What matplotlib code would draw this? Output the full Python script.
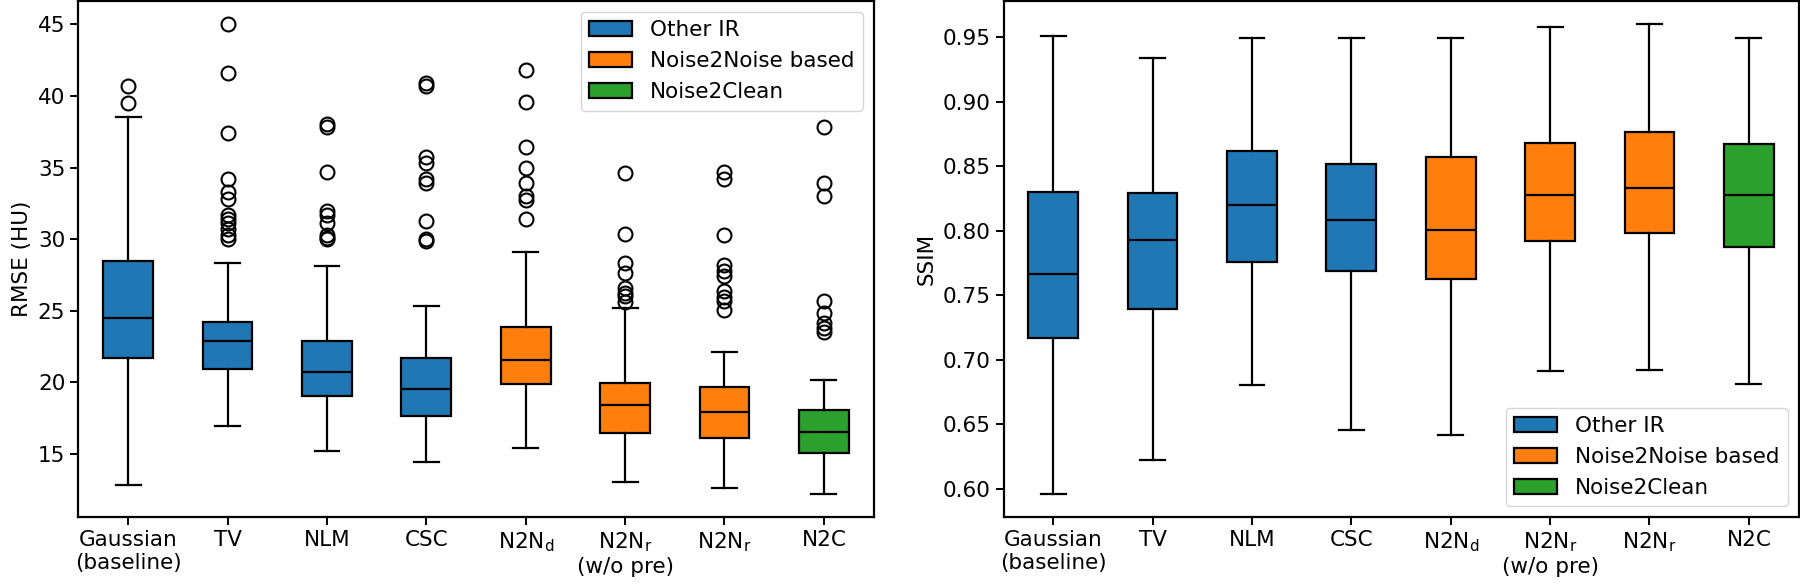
import matplotlib.pyplot as plt
from matplotlib.patches import Patch

plt.rcParams['font.family'] = ['DejaVu Sans']
plt.rcParams['font.size'] = 15.5

methods = ['Gaussian\n(baseline)', 'TV', 'NLM', 'CSC', 'N2N$_\\mathrm{d}$',
           'N2N$_\\mathrm{r}$\n(w/o pre)', '$\\mathrm{N2N_r}$', 'N2C']
groups = [0, 0, 0, 0, 1, 1, 1, 2]
group_names = ['Other IR', 'Noise2Noise based', 'Noise2Clean']
group_colors = ['#1f77b4', '#ff7f0e', '#2ca02c']

# RMSE (HU): whisker low, Q1, median, Q3, whisker high
rmse_wlo = [12.8, 16.95, 15.2, 14.45, 15.42, 13.05, 12.63, 12.21]
rmse_q1 = [21.72, 20.94, 19.0, 17.63, 19.84, 16.41, 16.07, 15.05]
rmse_med = [24.5, 22.84, 20.73, 19.5, 21.54, 18.39, 17.89, 16.51]
rmse_q3 = [28.44, 24.17, 22.84, 21.7, 23.83, 19.92, 19.64, 18.07]
rmse_whi = [38.5, 28.3, 28.1, 25.31, 29.09, 25.21, 22.08, 20.18]
rmse_fliers = [
    [40.73, 39.53],
    [45.0, 41.6, 37.4, 34.2, 33.3, 32.8, 31.7, 31.4, 31.1, 30.7, 30.3, 30.0],
    [38.07, 37.86, 34.7, 31.95, 31.7, 31.1, 30.26, 30.08, 30.0],
    [40.9, 40.7, 35.7, 35.3, 34.2, 33.9, 31.25, 30.0, 29.87],
    [41.82, 39.58, 36.4, 34.95, 33.9, 33.0, 32.73, 31.38],
    [34.6, 30.36, 28.3, 27.66, 26.6, 26.2, 26.0, 25.6],
    [34.7, 34.17, 30.3, 28.2, 27.8, 27.4, 26.35, 25.96, 25.7, 25.05],
    [37.8, 33.9, 33.0, 25.7, 24.8, 24.14, 23.75, 23.5],
]

# SSIM: whisker low, Q1, median, Q3, whisker high
ssim_wlo = [0.5962, 0.622, 0.6803, 0.6454, 0.6416, 0.6916, 0.6919, 0.6812]
ssim_q1 = [0.7165, 0.739, 0.776, 0.7685, 0.7624, 0.7925, 0.798, 0.7876]
ssim_med = [0.7668, 0.7931, 0.8202, 0.8087, 0.8009, 0.828, 0.8332, 0.8277]
ssim_q3 = [0.830, 0.8292, 0.862, 0.852, 0.857, 0.8685, 0.8766, 0.867]
ssim_whi = [0.9514, 0.9341, 0.9497, 0.9497, 0.9494, 0.9578, 0.9601, 0.9497]


def make_stats(wlo, q1, med, q3, whi, fliers=None):
    stats = []
    for i in range(len(med)):
        stats.append(dict(whislo=wlo[i], q1=q1[i], med=med[i], q3=q3[i], whishi=whi[i],
                          fliers=fliers[i] if fliers else []))
    return stats


def draw(ax, stats, ylabel, legend_loc):
    lw = 1.6
    bp = ax.bxp(stats, widths=0.5, patch_artist=True, showfliers=True,
                boxprops=dict(linewidth=lw, edgecolor='black'),
                whiskerprops=dict(linewidth=lw),
                capprops=dict(linewidth=lw),
                medianprops=dict(color='black', linewidth=lw),
                flierprops=dict(marker='o', markerfacecolor='none', markeredgecolor='black',
                                markersize=10, markeredgewidth=1.5))
    for patch, g in zip(bp['boxes'], groups):
        patch.set_facecolor(group_colors[g])
    ax.set_xticks(range(1, len(methods) + 1))
    ax.set_xticklabels(methods)
    ax.set_ylabel(ylabel)
    for s in ax.spines.values():
        s.set_linewidth(1.6)
    ax.tick_params(width=1.4, length=6)
    handles = [Patch(facecolor=c, edgecolor='black', linewidth=1.6, label=n)
               for c, n in zip(group_colors, group_names)]
    ax.legend(handles=handles, loc=legend_loc)


fig = plt.figure(figsize=(18, 5.84), dpi=100)
ax1 = fig.add_axes([0.0436, 0.1147, 0.4417, 0.8836])
ax2 = fig.add_axes([0.5575, 0.1147, 0.4417, 0.8836])

draw(ax1, make_stats(rmse_wlo, rmse_q1, rmse_med, rmse_q3, rmse_whi, rmse_fliers),
     'RMSE (HU)', 'upper right')
draw(ax2, make_stats(ssim_wlo, ssim_q1, ssim_med, ssim_q3, ssim_whi),
     'SSIM', 'lower right')

fig.savefig('out.png', dpi=100)
